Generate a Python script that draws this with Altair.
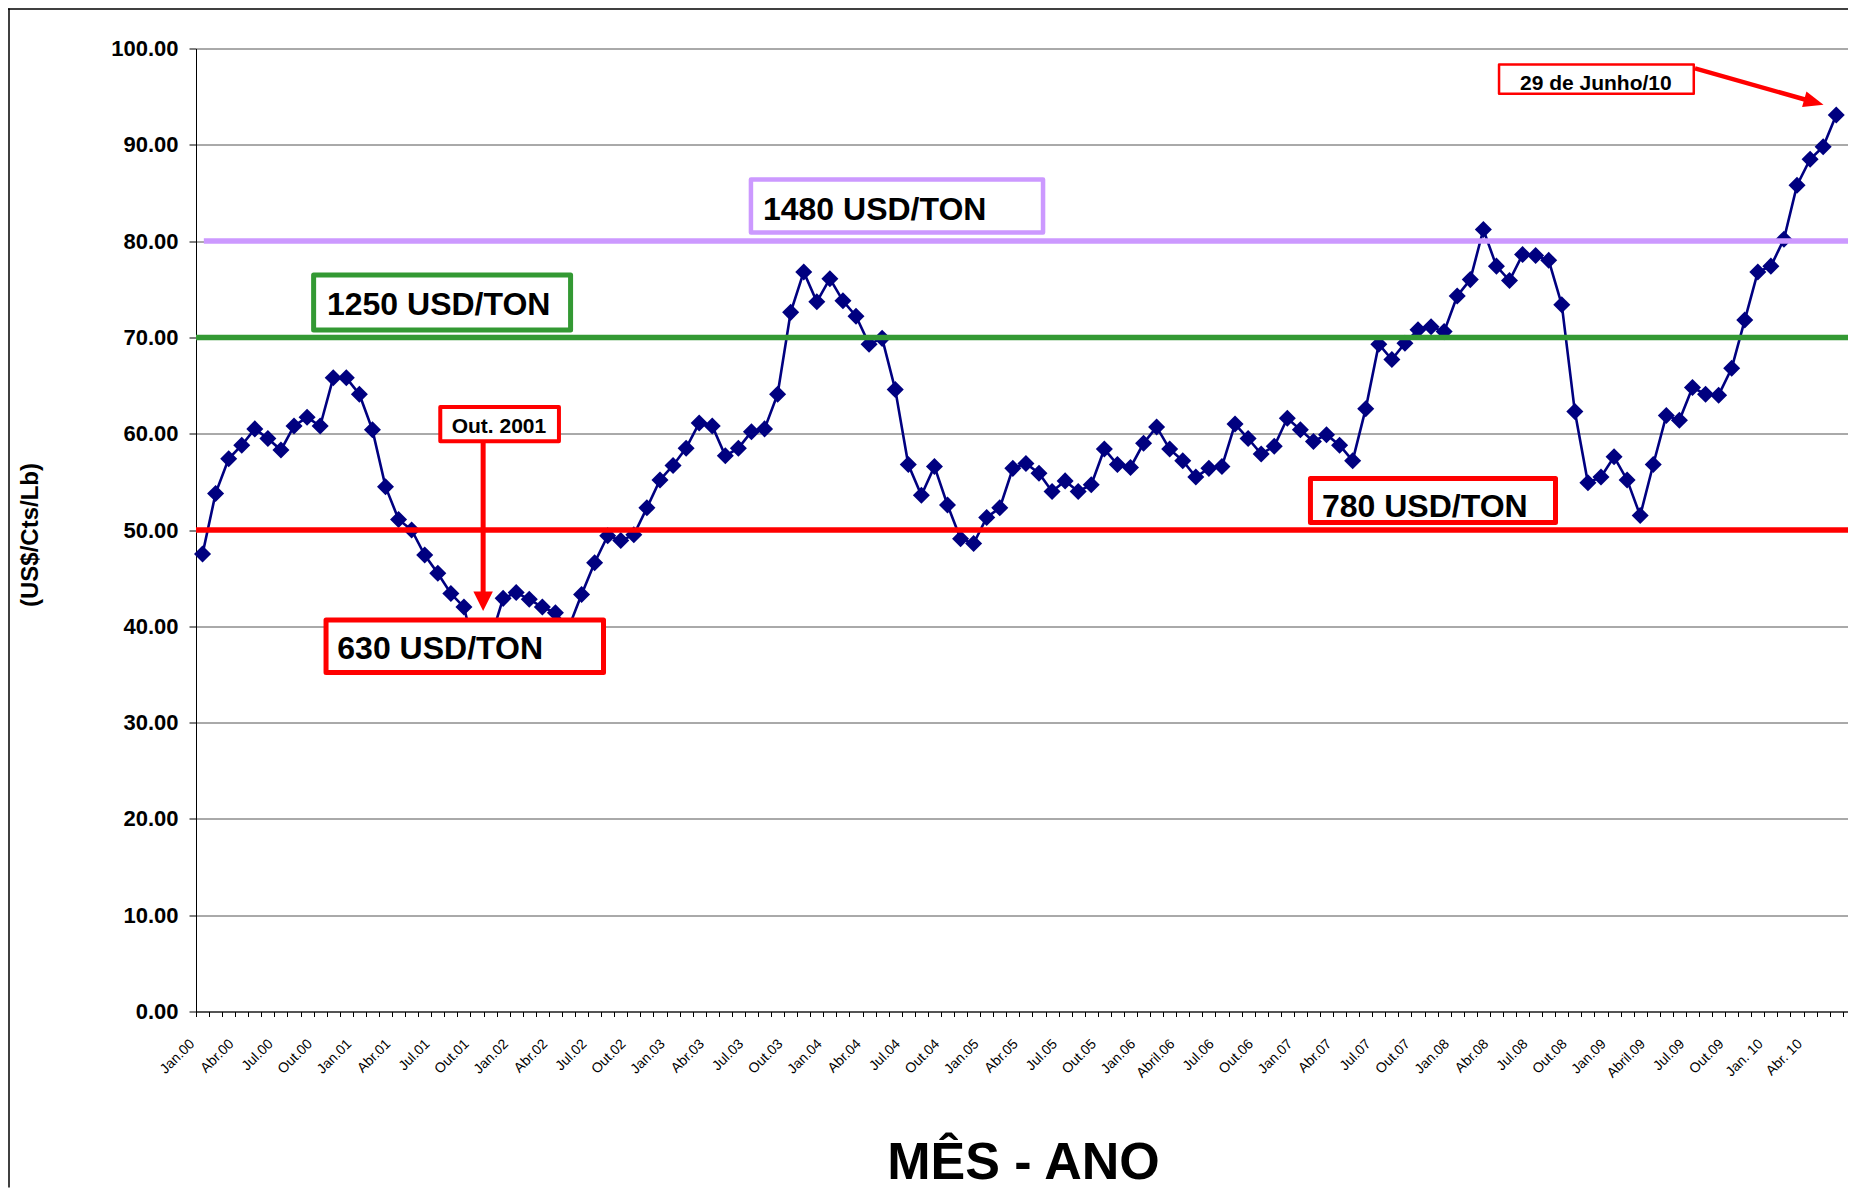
import altair as alt
import pandas as pd

# ---------------- data ----------------
prices = [
    47.5, 53.8, 57.4, 58.8, 60.5, 59.5, 58.3, 60.8, 61.7, 60.8, 65.8, 65.8,   # 2000
    64.1, 60.4, 54.5, 51.1, 50.0, 47.4, 45.5, 43.4, 42.0, 36.5, 38.5, 42.9,   # 2001
    43.5, 42.8, 42.0, 41.4, 39.8, 43.3, 46.6, 49.4, 48.9, 49.5, 52.3, 55.2,   # 2002
    56.7, 58.5, 61.1, 60.8, 57.7, 58.5, 60.2, 60.5, 64.1, 72.6, 76.8, 73.7,   # 2003
    76.1, 73.8, 72.2, 69.3, 69.9, 64.6, 56.8, 53.6, 56.6, 52.6, 49.1, 48.6,   # 2004
    51.3, 52.3, 56.4, 56.9, 55.9, 54.0, 55.1, 54.0, 54.7, 58.4, 56.8, 56.5,   # 2005
    59.0, 60.7, 58.4, 57.2, 55.5, 56.4, 56.6, 61.0, 59.5, 57.9, 58.7, 61.6,   # 2006
    60.4, 59.2, 59.9, 58.8, 57.2, 62.6, 69.3, 67.7, 69.4, 70.8, 71.1, 70.6,   # 2007
    74.3, 76.0, 81.2, 77.4, 75.9, 78.6, 78.5, 78.0, 73.4, 62.3, 54.9, 55.5,   # 2008
    57.6, 55.2, 51.5, 56.8, 61.9, 61.4, 64.8, 64.1, 64.0, 66.8, 71.8, 76.8,   # 2009
    77.4, 80.2, 85.8, 88.5, 89.8, 93.1,                                       # 2010
]

quarter_labels = [
    "Jan.00", "Abr.00", "Jul.00", "Out.00",
    "Jan.01", "Abr.01", "Jul.01", "Out.01",
    "Jan.02", "Abr.02", "Jul.02", "Out.02",
    "Jan.03", "Abr.03", "Jul.03", "Out.03",
    "Jan.04", "Abr.04", "Jul.04", "Out.04",
    "Jan.05", "Abr.05", "Jul.05", "Out.05",
    "Jan.06", "Abril.06", "Jul.06", "Out.06",
    "Jan.07", "Abr.07", "Jul.07", "Out.07",
    "Jan.08", "Abr.08", "Jul.08", "Out.08",
    "Jan.09", "Abril.09", "Jul.09", "Out.09",
    "Jan. 10", "Abr. 10",
]

thr_values = [50, 70, 80]
thr_colors = ["#FF0000", "#339933", "#CC99FF"]
thr_start = [0.0, 0.0, 0.6]

box_texts = ["1480 USD/TON", "1250 USD/TON", "630 USD/TON", "780 USD/TON",
             "Out. 2001", "29 de Junho/10"]

# ---------------- layout ----------------
N_CAT = 126.4
W, H = 1652, 963
FONT = "Liberation Sans"
X_TITLE = "MÊS - ANO"
Y_TITLE = "(US$/Cts/Lb)"

xscale = alt.Scale(domain=[0, N_CAT], nice=False, zero=False)
yscale = alt.Scale(domain=[0, 100], nice=False, zero=True)

# label expression built from the list (nested conditionals)
label_expr = "''"
for k in range(len(quarter_labels) - 1, -1, -1):
    label_expr = "datum.value == %d ? '%s' : (%s)" % (3 * k, quarter_labels[k], label_expr)

df = pd.DataFrame({"pos": [i + 0.5 for i in range(len(prices))], "price": prices})

x_axis = alt.Axis(
    values=list(range(127)), labelExpr=label_expr, labelAngle=-45,
    labelAlign="right", labelBaseline="middle", labelPadding=25, labelOffset=-4,
    labelFontSize=14, labelFont=FONT, labelColor="#000", labelOverlap=False,
    labelFlush=False, tickCount=127,
    tickSize=5, tickColor="#000", domainColor="#000", domainWidth=1, grid=False,
    titleFont=FONT, titleFontSize=52, titleFontWeight="bold",
    titleColor="#000", titleX=827, titleY=166.5, titleBaseline="alphabetic",
    titleAlign="center",
)
y_axis = alt.Axis(
    values=list(range(0, 101, 10)), format=".2f", labelFont=FONT,
    labelFontSize=22, labelFontWeight="bold", labelColor="#000", labelPadding=11,
    labelOverlap=False,
    tickSize=7, tickColor="#000", domainColor="#000", domainWidth=1,
    grid=True, gridColor="#555", gridWidth=1,
    titleFont=FONT, titleFontSize=24, titleFontWeight="bold",
    titleColor="#000", titleX=-166, titleY=486, titleAngle=270,
    titleBaseline="middle", titleAlign="center",
)


def X(field):
    return alt.X(field, scale=xscale, axis=x_axis, title=X_TITLE)


def Y(field):
    return alt.Y(field, scale=yscale, axis=y_axis, title=Y_TITLE)


line = alt.Chart(df).mark_line(color="#000080", strokeWidth=2.6).encode(
    x=X("pos:Q"), y=Y("price:Q"),
)
pts = alt.Chart(df).mark_point(shape="diamond", filled=True, size=290,
                               color="#000080", opacity=1).encode(
    x=X("pos:Q"), y=Y("price:Q"),
)

thr = pd.DataFrame({"x": thr_start, "x2": [N_CAT] * 3, "y": thr_values, "c": thr_colors})
rules = alt.Chart(thr).mark_rule(strokeWidth=5.5).encode(
    x=X("x:Q"), x2="x2:Q", y=Y("y:Q"),
    color=alt.Color("c:N", scale=None),
)

boxes = pd.DataFrame({
    "x":  [42.46, 9.00, 9.95, 85.27, 18.69, 99.70],
    "x2": [64.81, 28.66, 31.18, 104.02, 27.77, 114.60],
    "y":  [86.39, 76.48, 40.65, 55.35, 62.77, 98.34],
    "y2": [80.90, 70.77, 35.20, 50.78, 59.21, 95.30],
    "stroke": ["#CC99FF", "#339933", "#FF0000", "#FF0000", "#FF0000", "#FF0000"],
    "sw": [4.5, 5, 5, 5, 4, 2.5],
})
box_layer = alt.Chart(boxes).mark_rect(fill="white", strokeJoin="round").encode(
    x=X("x:Q"), x2="x2:Q", y=Y("y:Q"), y2="y2:Q",
    stroke=alt.Stroke("stroke:N", scale=None),
    strokeWidth=alt.StrokeWidth("sw:Q", scale=None),
)

texts = pd.DataFrame({
    "x": [43.38, 10.02, 10.81, 86.15, 19.56, 101.30],
    "y": [82.19, 72.33, 36.60, 51.35, 60.04, 95.69],
    "text": box_texts,
    "size": [32, 32, 32, 32, 21, 21],
})
text_layer = alt.Chart(texts).mark_text(
    align="left", baseline="alphabetic", fontWeight="bold", color="#000", font=FONT
).encode(
    x=X("x:Q"), y=Y("y:Q"),
    text="text:N",
    size=alt.Size("size:Q", scale=None),
)

arrows = pd.DataFrame({
    "x": [21.97, 114.69], "x2": [21.97, 123.10],
    "y": [59.20, 97.94], "y2": [43.56, 94.70],
    "sw": [5, 4.5],
})
arrow_lines = alt.Chart(arrows).mark_rule(color="#FF0000").encode(
    x=X("x:Q"), x2="x2:Q", y=Y("y:Q"), y2="y2:Q",
    strokeWidth=alt.StrokeWidth("sw:Q", scale=None),
)
head_down = alt.Chart(pd.DataFrame({"x": [21.97], "y": [42.59]})).mark_point(
    shape="M-1,-1L1,-1L0,1Z", filled=True, size=380, color="#FF0000", opacity=1
).encode(x=X("x:Q"), y=Y("y:Q"))
head_right = alt.Chart(pd.DataFrame({"x": [123.79], "y": [94.45]})).mark_point(
    shape="M-1,-0.8L1,0L-1,0.8Z", filled=True, size=400, color="#FF0000",
    opacity=1, angle=15.7
).encode(x=X("x:Q"), y=Y("y:Q"))

# outer chart frame (decoration)
frame_left = alt.Chart(pd.DataFrame({"a": [0]})).mark_rule(color="#000", strokeWidth=1.5).encode(
    x=alt.value(-187), y=alt.value(-40), y2=alt.value(H + 176)
)
frame_top = alt.Chart(pd.DataFrame({"a": [0]})).mark_rule(color="#000", strokeWidth=1.5).encode(
    y=alt.value(-39.5), x=alt.value(-188), x2=alt.value(W)
)

chart = alt.layer(
    line, pts, rules, box_layer, text_layer,
    arrow_lines, head_down, head_right, frame_left, frame_top,
).properties(
    width=W, height=H,
    padding={"left": 188, "top": 40.5, "right": 0, "bottom": 179.5},
    autosize=alt.AutoSizeParams(type="none"),
    background="white",
).configure_view(strokeWidth=0)

chart.save("out.html", embed_options={"renderer": "svg", "actions": False})
